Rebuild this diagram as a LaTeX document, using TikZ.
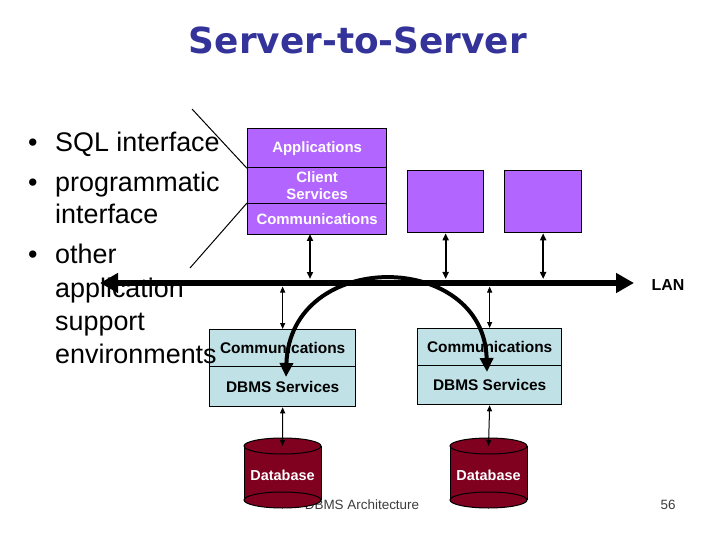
\documentclass[tikz,border=0pt]{standalone}
\usepackage{fontspec}
\setmainfont{Liberation Sans}
\newfontfamily\titlefont{DejaVu Sans}
\usetikzlibrary{arrows.meta}
\definecolor{purp}{RGB}{179,102,255}
\definecolor{lblue}{RGB}{192,225,230}
\definecolor{dbred}{RGB}{128,0,32}
\definecolor{titleblue}{RGB}{51,51,153}
\definecolor{footgray}{RGB}{60,60,60}
\begin{document}
\begin{tikzpicture}[x=1bp,y=-1bp,
  purpbox/.style={draw=black, line width=1.3bp, fill=purp, text=white,
    font=\bfseries\fontsize{15}{17}\selectfont, inner sep=0pt, anchor=north west, align=center},
  bluebox/.style={draw=black, line width=1.3bp, fill=lblue, text=black,
    font=\bfseries\fontsize{15.5}{17}\selectfont, inner sep=0pt, anchor=north west, align=center},
  bullettext/.style={anchor=base west, inner sep=0pt, font=\fontsize{27}{33}\selectfont},
  thickdbl/.style={line width=1.8bp, {Triangle[length=7bp,width=6bp]}-{Triangle[length=7bp,width=6bp]}},
  thindbl/.style={line width=1bp, {Triangle[length=6bp,width=5bp]}-{Triangle[length=6bp,width=5bp]}},
  lanline/.style={line width=6.5bp, {Triangle[length=18bp,width=19bp]}-{Triangle[length=18bp,width=19bp]}},
  curvearrow/.style={line width=4bp, {Triangle[length=14bp,width=13bp]}-{Triangle[length=14bp,width=13bp]}},
  pointer/.style={line width=1bp, draw=black},
  dblabel/.style={text=white, font=\bfseries\fontsize{14.5}{16}\selectfont, inner sep=0pt},
  footer/.style={text=footgray, font=\fontsize{13.5}{15}\selectfont, inner sep=0pt, anchor=base}
]
\useasboundingbox (0,0) rectangle (720,540);

% title
\node[text=titleblue, font=\titlefont\bfseries\fontsize{36}{40}\selectfont, inner sep=0pt] (title) at (358,40) {Server-to-Server};

% client stack
\node[purpbox, minimum width=139bp, minimum height=39bp] (app) at (247,128) {Applications};
\node[purpbox, minimum width=139bp, minimum height=36bp] (cs) at (247,167) {Client\\Services};
\node[purpbox, minimum width=139bp, minimum height=31bp] (comm) at (247,203) {Communications};

% empty purple boxes
\node[purpbox, minimum width=76bp, minimum height=62bp] (p1) at (407,170) {};
\node[purpbox, minimum width=77bp, minimum height=62bp] (p2) at (504,170) {};

% server stacks
\node[bluebox, minimum width=146bp, minimum height=37bp] (bc1) at (209,329) {Communications};
\node[bluebox, minimum width=146bp, minimum height=40bp] (bd1) at (209,366) {DBMS Services};
\node[bluebox, minimum width=144bp, minimum height=37bp] (bc2) at (417,328) {Communications};
\node[bluebox, minimum width=144bp, minimum height=39bp] (bd2) at (417,365) {DBMS Services};

% footer
\node[footer] (foot) at (362,509) {DBMS Architecture};
\node[footer] (pagenum) at (668,509) {56};

% databases
\foreach \cx/\nm in {282.5/db1, 488.5/db2}{
  \fill[dbred] (\cx-38.5,446) rectangle (\cx+38.5,500);
  \filldraw[fill=dbred, draw=black, line width=1bp] (\cx,500) ellipse [x radius=38.5, y radius=8];
  \draw[black, line width=1bp] (\cx-38.5,446) -- (\cx-38.5,500) (\cx+38.5,446) -- (\cx+38.5,500);
  \filldraw[fill=dbred, draw=black, line width=1bp] (\cx,446) ellipse [x radius=38.5, y radius=8];
  \coordinate (\nm top) at (\cx,446);
}
\node[dblabel] (db1) at (282.5,475) {Database};
\node[dblabel] (db2) at (488.5,475) {Database};

% bullet list
\foreach \yy in {152,192,264}{
  \node[bullettext] at (28,\yy) {•};
}
\node[bullettext] (b1) at (55,152) {SQL interface};
\node[bullettext] (b2) at (55,192) {programmatic};
\node[bullettext] (b2b) at (55,224) {interface};
\node[bullettext] (b3) at (55,264) {other};
\node[bullettext] (b3b) at (55,297) {application};
\node[bullettext] (b3c) at (55,330) {support};
\node[bullettext] (b3d) at (55,363) {environments};

% pointer lines
\coordinate (ptr1) at (192,109);
\coordinate (ptr2) at (190,268);
\draw[pointer] (ptr1) -- (app.south west);
\draw[pointer] (ptr2) -- (comm.north west);

% LAN
\coordinate (lanL) at (100,283);
\coordinate (lanR) at (634,283);
\draw[lanline] (lanL) -- (lanR);
\node[font=\bfseries\fontsize{16}{18}\selectfont, inner sep=0pt] (lan) at (668,285) {LAN};

% connections to LAN
\coordinate (c0t) at (310,234);
\coordinate (c0b) at (310,279);
\draw[thickdbl] (c0t) -- (c0b);
\draw[thickdbl] (p1.south) -- ([yshift=4bp]p1.south |- lanL);
\draw[thickdbl] (p2.south) -- ([yshift=4bp]p2.south |- lanL);
\draw[thindbl] ([yshift=-3.5bp]bc1.north |- lanL) -- (bc1.north);
\draw[thindbl] ([yshift=-3.5bp]bc2.north |- lanL) -- (bc2.north);

% to databases
\draw[thindbl] (bd1.south) -- (db1top);
\draw[thindbl] (bd2.south) -- (db2top);

% server-to-server arc
\coordinate (arcA) at (286,377);
\coordinate (arcB) at (487,372);
\draw[curvearrow] (arcA) .. controls (290,248) and (484,250) .. (arcB);
\end{tikzpicture}
\end{document}
